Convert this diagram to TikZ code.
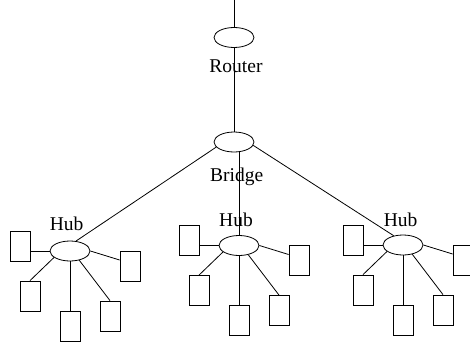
\documentclass[tikz,border=0pt]{standalone}
\usepackage{fontspec}
\setmainfont{Liberation Serif}
\usetikzlibrary{shapes.geometric}
\tikzset{
  dev/.style={ellipse,draw,minimum width=40pt,minimum height=20pt,inner sep=0pt},
  pc/.style={rectangle,draw,minimum width=20pt,minimum height=30pt,inner sep=0pt},
  tag/.style={anchor=base,inner sep=0pt,font=\fontsize{19.5}{20}\selectfont}
}
\begin{document}
\begin{tikzpicture}[x=1pt,y=-1pt,line width=.8pt]
  \useasboundingbox (0,0) rectangle (470,342);
  \clip (0,0) rectangle (470,342);
  \coordinate (uplink) at (234,0);
  \node[dev] (router) at (234,37.5) {};
  \node[tag] (routertxt) at (236,72.7) {Router};
  \node[dev] (bridge) at (234,142) {};
  \node[tag] (bridgetxt) at (236.7,181.3) {Bridge};
  \foreach \h/\x/\y/\lx/\ly in {A/70/251/66.7/230,B/239/245.5/236/226.7,C/403/245/400.7/226.7}{
    \node[dev] (hub\h) at (\x,\y) {};
    \node[tag] (lbl\h) at (\lx,\ly) {Hub};
    \foreach \i/\dx/\dy in {1/-50/-5,2/-40/45,3/0/75,4/40/65,5/60/15}
      \node[pc] (pc\h\i) at (\x+\dx,\y+\dy) {};
    \draw (hub\h.west)--(hub\h.west -| pc\h1.east);
    \draw (hub\h.202)--(pc\h2.north);
    \draw (hub\h.south)--(pc\h3.north);
    \draw (hub\h.-45)--(pc\h4.north);
    \draw (hub\h.east)--([yshift=6pt]pc\h5.west);
  }
  \draw (uplink)--(router.north);
  \draw (router.south)--(bridge.north);
  \draw (bridge.196)--(hubA.59);
  \draw (bridge.-10)--(hubC.135);
  \draw (hubB.north |- bridge.south)--(hubB.north);
\end{tikzpicture}
\end{document}
